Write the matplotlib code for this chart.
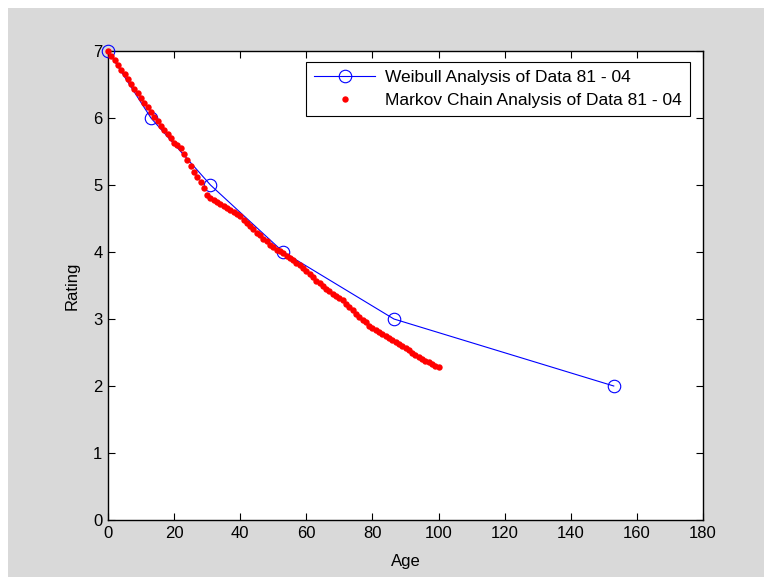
import matplotlib.pyplot as plt
from matplotlib.patches import Rectangle

# Weibull fit: age at which each rating is reached
weibull_age = [0, 13, 31, 53, 86.5, 153]
weibull_rating = [7, 6, 5, 4, 3, 2]

# Markov chain expected rating, one value per year of age
markov_age = list(range(0, 101))
markov_rating = [
    7.00, 6.93, 6.86, 6.79, 6.72, 6.65, 6.58, 6.51, 6.44, 6.37,
    6.30, 6.23, 6.16, 6.09, 6.02, 5.95, 5.88, 5.82, 5.76, 5.70,
    5.63, 5.59, 5.55, 5.46, 5.38, 5.29, 5.20, 5.12, 5.04, 4.96,
    4.85, 4.81, 4.78, 4.75, 4.72, 4.69, 4.66, 4.63, 4.60, 4.56,
    4.53, 4.48, 4.44, 4.39, 4.34, 4.29, 4.25, 4.20, 4.16, 4.11,
    4.07, 4.03, 4.01, 3.98, 3.94, 3.91, 3.88, 3.84, 3.80, 3.76,
    3.72, 3.67, 3.62, 3.57, 3.53, 3.49, 3.45, 3.42, 3.38, 3.34,
    3.31, 3.28, 3.23, 3.18, 3.13, 3.08, 3.03, 2.99, 2.95, 2.90,
    2.86, 2.83, 2.80, 2.77, 2.74, 2.71, 2.68, 2.65, 2.62, 2.59,
    2.56, 2.53, 2.50, 2.47, 2.44, 2.41, 2.38, 2.36, 2.33, 2.30,
    2.28,
]

plt.rcParams["font.family"] = ["Liberation Sans", "DejaVu Sans"]

fig = plt.figure(figsize=(7.64, 5.77), dpi=100, facecolor="#d9d9d9")
# thin white margin along the top and left edges
fig.patches.append(Rectangle((0, 1 - 8 / 577), 1, 8 / 577, transform=fig.transFigure,
                             facecolor="white", edgecolor="none", zorder=-1))
fig.patches.append(Rectangle((0, 0), 8 / 764, 1, transform=fig.transFigure,
                             facecolor="white", edgecolor="none", zorder=-1))

ax = fig.add_axes([108 / 764, 57 / 577, 595 / 764, 469 / 577])
ax.set_facecolor("white")

ax.plot(weibull_age, weibull_rating, color="blue", linewidth=0.8, marker="o",
        markersize=9, markerfacecolor="none", markeredgecolor="blue",
        markeredgewidth=0.8, label="Weibull Analysis of Data 81 - 04",
        zorder=3, clip_on=False)
ax.plot(markov_age, markov_rating, linestyle="none", marker="o", markersize=4.6,
        color="red", markeredgecolor="none",
        label="Markov Chain Analysis of Data 81 - 04", zorder=4, clip_on=False)

ax.set_xlim(0, 180)
ax.set_ylim(0, 7)
ax.set_xticks(range(0, 181, 20))
ax.set_yticks(range(0, 8))
ax.tick_params(direction="in", top=True, right=True, length=5, width=0.8,
               labelsize=12, colors="black", pad=4)
for s in ax.spines.values():
    s.set_linewidth(1.0)
    s.set_color("black")

ax.set_xlabel("Age", fontsize=12, labelpad=10)
ax.set_ylabel("Rating", fontsize=12, labelpad=10)

leg = ax.legend(loc="upper right", bbox_to_anchor=(1 - 13 / 595, 1 - 11 / 469),
                borderaxespad=0, fontsize=12.5, fancybox=False, framealpha=1,
                edgecolor="black", borderpad=0.45, handlelength=3.5,
                labelspacing=0.45, handletextpad=0.6)
leg.get_frame().set_linewidth(0.8)

fig.savefig("out.png", dpi=100, facecolor=fig.get_facecolor())
